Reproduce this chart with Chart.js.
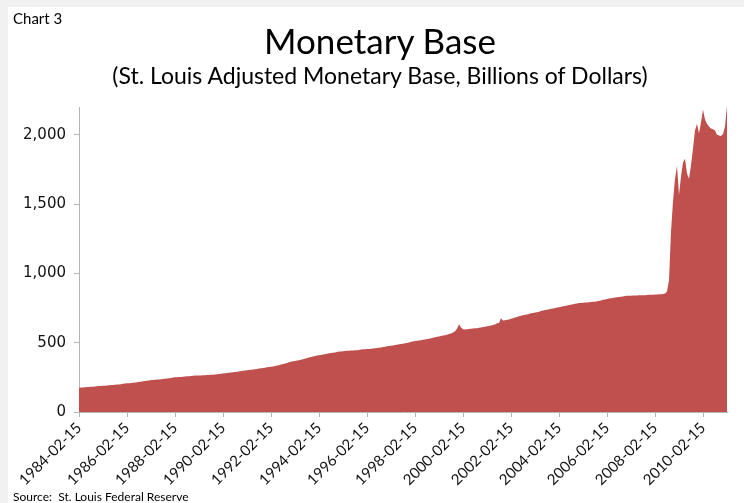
<!DOCTYPE html>
<html>
<head>
<meta charset="utf-8">
<script src="https://cdn.jsdelivr.net/npm/chart.js"></script>
<style>
  html, body { margin: 0; padding: 0; background: #f1f1f1; }
  .card { position: absolute; left: 8px; top: 7px; width: 736px; height: 496px; background: #fff; }
  .wrap { position: absolute; left: 0; top: 0; width: 744px; height: 503px; }
  .txt { position: absolute; font-family: Lato, "Open Sans", sans-serif; color: #000; white-space: nowrap; }
  #chart3 { left: 13px; top: 9px; font-size: 15px; }
  #title { left: 8px; width: 744px; text-align: center; top: 19px; font-size: 35px; }
  #subtitle { left: 8px; width: 744px; text-align: center; top: 61px; font-size: 23px; }
  #source { left: 13px; top: 489px; font-size: 12px; }
  canvas { position: absolute; left: 0; top: 0; }
</style>
</head>
<body>
<div class="card"></div>
<div class="wrap">
  <canvas id="mbChart" width="744" height="503"></canvas>
  <div class="txt" id="chart3">Chart 3</div>
  <div class="txt" id="title">Monetary Base</div>
  <div class="txt" id="subtitle">(St. Louis Adjusted Monetary Base, Billions of Dollars)</div>
  <div class="txt" id="source">Source:&nbsp; St. Louis Federal Reserve</div>
</div>
<script>
// monthly values, billions of dollars (1984 starts in Feb, 2011 ends in Feb)
const base1984 = [175,176,177,178,180,181,182,183,184,185,187];
const base1985 = [188,189,190,191,193,194,195,197,198,199,201,203];
const base1986 = [205,207,208,209,211,213,215,217,219,221,223,226];
const base1987 = [228,230,231,232,234,235,236,238,239,241,243,246];
const base1988 = [248,250,251,252,253,255,256,257,258,259,261,263];
const base1989 = [263,264,264,265,265,266,267,268,269,270,272,274];
const base1990 = [276,278,279,281,283,285,287,289,291,293,296,298];
const base1991 = [300,302,303,305,307,309,311,313,315,317,320,323];
const base1992 = [324,326,329,332,335,338,342,346,350,354,358,363];
const base1993 = [366,368,371,374,377,381,385,389,393,396,400,404];
const base1994 = [407,409,411,414,417,420,423,426,428,430,433,436];
const base1995 = [437,438,440,441,442,443,444,445,446,448,450,452];
const base1996 = [453,454,455,457,458,460,462,464,466,468,471,474];
const base1997 = [476,478,480,483,485,488,490,493,496,498,502,506];
const base1998 = [509,512,514,516,518,521,523,526,529,532,536,540];
const base1999 = [542,545,548,551,554,558,562,567,574,582,600,633];
const base2000 = [610,597,595,596,598,600,602,604,605,607,610,614];
const base2001 = [615,618,621,624,628,632,640,642,676,660,662,666];
const base2002 = [668,672,677,682,686,690,694,698,701,704,707,712];
const base2003 = [714,717,720,724,728,732,735,738,741,744,747,751];
const base2004 = [753,756,759,762,765,768,771,774,777,780,782,786];
const base2005 = [787,788,789,790,791,793,795,796,798,801,805,810];
const base2006 = [812,815,818,820,823,826,827,829,831,833,836,838];
const base2007 = [838,839,840,840,841,842,842,843,843,844,845,846];
const base2008 = [846,847,848,849,850,851,855,870,950,1300,1520,1680];
const base2009 = [1777,1565,1700,1800,1826,1720,1682,1780,1900,2030,2080,2010];
const base2010 = [2090,2180,2110,2080,2060,2045,2040,2030,2000,1995,1990,2005];
const base2011 = [2060,2210];

const tickLabels = ['1984-02-15','1986-02-15','1988-02-15','1990-02-15','1992-02-15',
  '1994-02-15','1996-02-15','1998-02-15','2000-02-15','2002-02-15','2004-02-15',
  '2006-02-15','2008-02-15','2010-02-15'];
const yTicks = [0, 500, 1000, 1500, 2000];

const values = [].concat(base1984, base1985, base1986, base1987, base1988, base1989,
  base1990, base1991, base1992, base1993, base1994, base1995, base1996, base1997,
  base1998, base1999, base2000, base2001, base2002, base2003, base2004, base2005,
  base2006, base2007, base2008, base2009, base2010, base2011);

// one category per month, dated the 15th
const dates = [];
for (let y = 1984; y <= 2011; y++) {
  for (let m = 1; m <= 12; m++) {
    if (y === 1984 && m < 2) continue;
    if (y === 2011 && m > 2) continue;
    dates.push(y + '-' + String(m).padStart(2, '0') + '-15');
  }
}

new Chart(document.getElementById('mbChart'), {
  type: 'line',
  data: {
    labels: dates,
    datasets: [{
      data: values,
      fill: 'origin',
      backgroundColor: '#C0504D',
      borderWidth: 0,
      pointRadius: 0,
      tension: 0
    }]
  },
  options: {
    responsive: false,
    animation: false,
    layout: { padding: { left: 12, right: 17, top: 107, bottom: 11 } },
    plugins: { legend: { display: false }, tooltip: { enabled: false } },
    scales: {
      x: {
        offset: false,
        afterFit: (s) => { s.height = 80; },
        border: { color: '#b5b5b5' },
        grid: { drawOnChartArea: false, tickLength: 5, color: '#b5b5b5' },
        ticks: {
          autoSkip: false,
          minRotation: 45,
          maxRotation: 45,
          padding: 2,
          color: '#111',
          font: { family: 'Lato', size: 15 },
          callback: function (v) {
            const lab = this.getLabelForValue(v);
            return tickLabels.includes(lab) ? lab : null;
          }
        }
      },
      y: {
        min: 0,
        max: 2200,
        afterFit: (s) => { s.width = 67; },
        afterBuildTicks: (s) => { s.ticks = yTicks.map(v => ({ value: v })); },
        border: { color: '#b5b5b5' },
        grid: { drawOnChartArea: false, tickLength: 5, color: '#b5b5b5' },
        ticks: {
          padding: 8,
          color: '#111',
          font: { family: 'DejaVu Sans', size: 15 },
          callback: (v) => v.toLocaleString('en-US')
        }
      }
    }
  }
});
</script>
</body>
</html>
